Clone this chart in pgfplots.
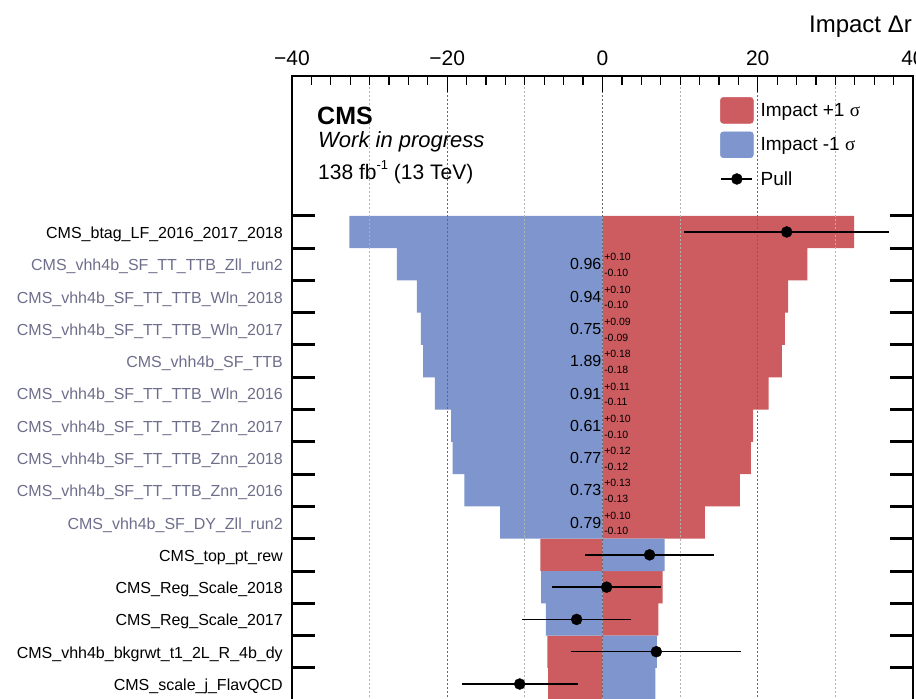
\documentclass[border=0pt]{standalone}
\usepackage{fontspec}
\setmainfont{Liberation Sans}
\newfontfamily\serifgr{Liberation Serif}
\usepackage{pgfplots}
\pgfplotsset{compat=1.18}
\definecolor{impred}{RGB}{204,92,96}
\definecolor{impblue}{RGB}{126,150,205}
\definecolor{lblgray}{RGB}{110,110,140}
\newcommand\fs[1]{\fontsize{#1}{#1}\selectfont}
\newcommand\gl[1]{\textcolor{lblgray}{#1}}
\newcommand\valrow[3]{%
 \node[anchor=base east, inner sep=0pt, font=\fs{16}, yshift=-5.7pt] at (axis cs:-0.12,#1) {#2};
 \node[anchor=base west, inner sep=0pt, font=\fs{10.5}, yshift=3.3pt] at (axis cs:0.2,#1) {+#3};
 \node[anchor=base west, inner sep=0pt, font=\fs{10.5}, yshift=-12.4pt] at (axis cs:0.2,#1) {-#3};}
\newcommand\gridv[2]{\draw[#2, line width=1.1pt, dash pattern=on 1.2pt off 2.8pt] (axis cs:#1,-16) -- (axis cs:#1,4.83);}
\begin{document}
\begin{tikzpicture}
\useasboundingbox (0pt,0pt) rectangle (916pt,699pt);
\clip (0pt,0pt) rectangle (916pt,699pt);
\begin{axis}[
 at={(292pt,623pt)}, anchor=north west,
 scale only axis, width=621pt, height=672.6pt,
 xmin=-40, xmax=40, ymin=-16, ymax=4.83,
 axis on top,
 axis line style={line width=2.2pt},
 tick align=inside,
 xtick={-40,-20,0,20,40},
 xticklabels={−40,−20,0,20,40},
 minor x tick num=7,
 xticklabel pos=right,
 xticklabel style={font=\fs{21}, anchor=base, inner sep=0pt, yshift=10.5pt},
 major tick length=16pt, minor tick length=9pt,
 xtick style={line width=1.2pt, black},
 ytick={0.5,-0.5,...,-15.5},
 yticklabels={},
 ytick style={line width=3pt, black, /pgfplots/major tick length=23pt},
 yticklabel style={font=\fs{16}, anchor=base east, inner sep=0pt, xshift=-9pt, yshift=-6.5pt},
 extra y ticks={0,-1,...,-14},
 extra y tick labels={CMS\_btag\_LF\_2016\_2017\_2018,
  \gl{CMS\_vhh4b\_SF\_TT\_TTB\_Zll\_run2},
  \gl{CMS\_vhh4b\_SF\_TT\_TTB\_Wln\_2018},
  \gl{CMS\_vhh4b\_SF\_TT\_TTB\_Wln\_2017},
  \gl{CMS\_vhh4b\_SF\_TTB},
  \gl{CMS\_vhh4b\_SF\_TT\_TTB\_Wln\_2016},
  \gl{CMS\_vhh4b\_SF\_TT\_TTB\_Znn\_2017},
  \gl{CMS\_vhh4b\_SF\_TT\_TTB\_Znn\_2018},
  \gl{CMS\_vhh4b\_SF\_TT\_TTB\_Znn\_2016},
  \gl{CMS\_vhh4b\_SF\_DY\_Zll\_run2},
  CMS\_top\_pt\_rew,
  CMS\_Reg\_Scale\_2018,
  CMS\_Reg\_Scale\_2017,
  CMS\_vhh4b\_bkgrwt\_t1\_2L\_R\_4b\_dy,
  CMS\_scale\_j\_FlavQCD},
 extra y tick style={ytick style={draw=none}, major tick length=0pt},
 legend style={at={(0.6892,0.9688)}, anchor=north west, draw=none, fill=none, inner sep=0pt,
   font=\fs{19}, row sep=8pt, /tikz/every odd column/.append style={column sep=5pt}},
 legend cell align=left,
]
\addplot[xbar, bar width=1, bar shift=0pt, fill=impred, draw=none, forget plot] coordinates {
 (32.4,0) (26.4,-1) (23.9,-2) (23.5,-3) (23.1,-4) (21.4,-5) (19.4,-6) (19.1,-7) (17.7,-8) (13.2,-9)
 (-8.0,-10) (7.75,-11) (7.2,-12) (-7.1,-13) (-7.0,-14)};
\addplot[xbar, bar width=1, bar shift=0pt, fill=impblue, draw=none, forget plot] coordinates {
 (-32.6,0) (-26.5,-1) (-23.9,-2) (-23.4,-3) (-23.1,-4) (-21.6,-5) (-19.5,-6) (-19.3,-7) (-17.8,-8) (-13.2,-9)
 (8.0,-10) (-7.9,-11) (-7.3,-12) (7.0,-13) (6.8,-14)};
\gridv{-30}{black!30}\gridv{-10}{black!30}\gridv{10}{black!30}\gridv{30}{black!30}
\gridv{-20}{black!60}\gridv{0}{black!60}\gridv{20}{black!60}
\valrow{-1}{0.96}{0.10}
\valrow{-2}{0.94}{0.10}
\valrow{-3}{0.75}{0.09}
\valrow{-4}{1.89}{0.18}
\valrow{-5}{0.91}{0.11}
\valrow{-6}{0.61}{0.10}
\valrow{-7}{0.77}{0.12}
\valrow{-8}{0.73}{0.13}
\valrow{-9}{0.79}{0.10}
\addlegendimage{legend image code/.code={\fill[impred, rounded corners=3pt] (0pt,-13pt) rectangle (33pt,13pt);}}
\addlegendentry{Impact +1 {\serifgr σ}}
\addlegendimage{legend image code/.code={\fill[impblue, rounded corners=3pt] (0pt,-13pt) rectangle (33pt,13pt);}}
\addlegendentry{Impact -1 {\serifgr σ}}
\addlegendimage{legend image code/.code={\path[draw=none, fill=none] (0pt,-13pt) rectangle (33pt,13pt); \draw[line width=1.5pt] (1pt,0pt) -- (32pt,0pt); \fill (16.5pt,0pt) circle (5.5pt);}}
\addlegendentry{Pull}
\end{axis}
\begin{axis}[
 at={(292pt,623pt)}, anchor=north west,
 scale only axis, width=621pt, height=672.6pt,
 xmin=-3, xmax=3, ymin=-16, ymax=4.83,
 hide axis]
\addplot[only marks, mark=*, mark size=5.5pt, black,
 error bars/.cd, x dir=both, x explicit, error mark=none,
 error bar style={line width=1.5pt, black}] coordinates {
 (1.78,0) +- (0.99,0)
 (0.455,-10) +- (0.62,0)
 (0.04,-11) +- (0.53,0)
 (-0.25,-12) +- (0.53,0)
 (0.52,-13) +- (0.82,0)
 (-0.80,-14) +- (0.56,0)};
\end{axis}
\node[anchor=base east, inner sep=0pt, font=\fs{24}] at (912pt,666pt) {Impact Δr};
\node[anchor=base west, inner sep=0pt, font=\fs{25}\bfseries] at (317pt,574pt) {CMS};
\node[anchor=base west, inner sep=0pt, font=\fs{22}\itshape] at (318pt,551pt) {Work in progress};
\node[anchor=base west, inner sep=0pt, font=\fs{21}] at (318pt,519pt) {138 fb\raisebox{0.5em}{\fs{13}-1} (13 TeV)};
\end{tikzpicture}
\end{document}
